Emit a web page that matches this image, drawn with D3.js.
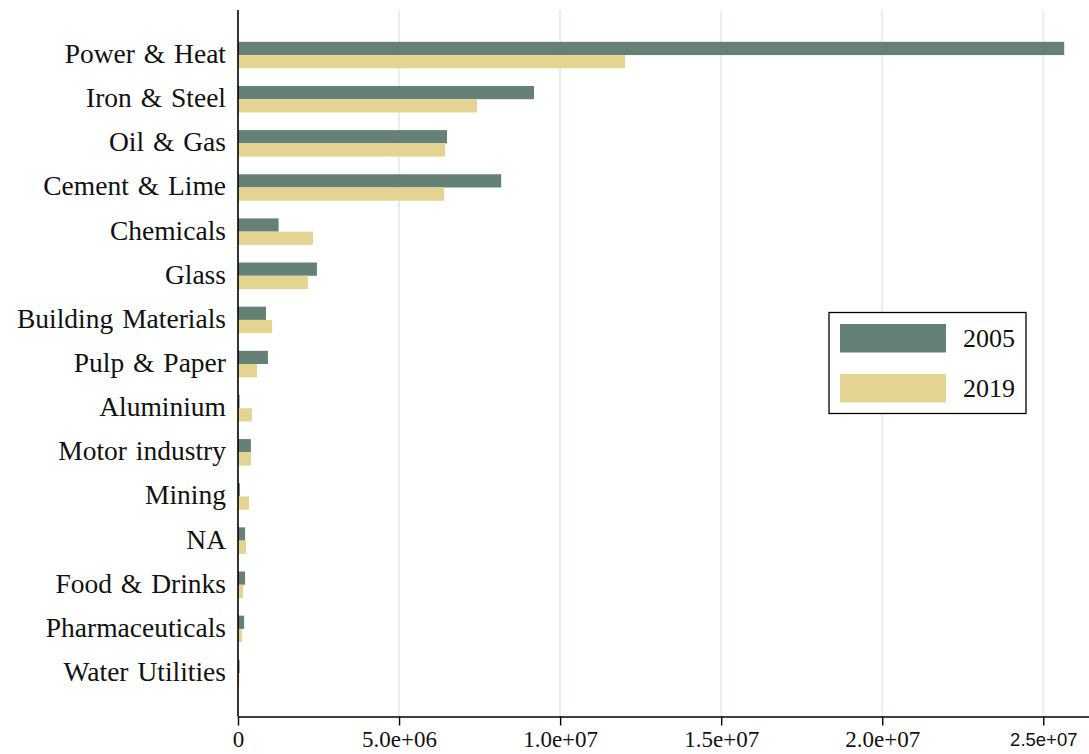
<!DOCTYPE html>
<html>
<head>
<meta charset="utf-8">
<script src="https://cdn.jsdelivr.net/npm/d3@7"></script>
<style>
  html, body { margin: 0; padding: 0; background: #fff; }
  svg { display: block; }
  .tick-label { font-family: "Liberation Serif", serif; font-size: 23px; fill: #111; }
  .tick-label.sans { font-family: "Liberation Sans", sans-serif; font-size: 18.5px; }
</style>
</head>
<body>
<svg id="chart" width="1089" height="754"></svg>
<script>
// Emissions by sector, 2005 vs 2019
const sectors = ["Power & Heat", "Iron & Steel", "Oil & Gas", "Cement & Lime", "Chemicals",
  "Glass", "Building Materials", "Pulp & Paper", "Aluminium", "Motor industry",
  "Mining", "NA", "Food & Drinks", "Pharmaceuticals", "Water Utilities"];
const values2005 = [25650000, 9190000, 6490000, 8170000, 1260000,
  2450000, 870000, 930000, 50000, 400000,
  60000, 220000, 220000, 190000, 50000];
const values2019 = [12020000, 7420000, 6430000, 6400000, 2330000,
  2170000, 1060000, 590000, 430000, 400000,
  340000, 250000, 160000, 120000, 40000];
const seriesNames = ["2005", "2019"];
const seriesColors = ["#658175", "#e4d492"];
const tickValues = [0, 5e6, 1e7, 1.5e7, 2e7, 2.5e7];
const tickLabels = ["0", "5.0e+06", "1.0e+07", "1.5e+07", "2.0e+07", "2.5e+07"];

const svg = d3.select("#chart");
const plotLeft = 238, plotRight = 1089, plotTop = 10, plotBottom = 716.5;
const serif = "Liberation Serif";

const xMax = d3.max(values2005.concat(values2019)) * 1.03;
const x = d3.scaleLinear().domain([0, xMax]).range([plotLeft, plotRight]);
const y = d3.scaleBand().domain(sectors).range([33, 33 + 15 * 44.14]).padding(0);
const barH = y.bandwidth() * 0.3;

// vertical grid behind the bars
svg.append("g").selectAll("line").data(tickValues.slice(1)).join("line")
  .attr("x1", d => x(d)).attr("x2", d => x(d))
  .attr("y1", plotTop).attr("y2", plotBottom)
  .attr("stroke", "#e6eeee").attr("stroke-width", 2);

// bars
const groups = svg.append("g").selectAll("g").data(sectors).join("g");
groups.append("rect")
  .attr("x", x(0))
  .attr("y", d => y(d) + y.bandwidth() / 2 - barH)
  .attr("width", (d, i) => x(values2005[i]) - x(0))
  .attr("height", barH)
  .attr("fill", seriesColors[0]);
groups.append("rect")
  .attr("x", x(0))
  .attr("y", d => y(d) + y.bandwidth() / 2)
  .attr("width", (d, i) => x(values2019[i]) - x(0))
  .attr("height", barH)
  .attr("fill", seriesColors[1]);

// category labels
svg.append("g").selectAll("text").data(sectors).join("text")
  .attr("x", plotLeft - 12)
  .attr("y", d => y(d) + y.bandwidth() / 2 + 8)
  .attr("text-anchor", "end")
  .attr("font-family", serif)
  .attr("font-size", 27.5)
  .attr("word-spacing", 2)
  .attr("fill", "#111")
  .text(d => d);

// bottom axis: line, tick marks and labels
const xAxis = d3.axisBottom(x).tickValues(tickValues)
  .tickFormat((d, i) => tickLabels[i]).tickSize(9).tickSizeOuter(0).tickPadding(6);
const gx = svg.append("g").attr("transform", `translate(0,${plotBottom})`).call(xAxis);
gx.attr("font-size", null).attr("font-family", null);
gx.select(".domain").attr("stroke", "#000").attr("stroke-width", 1.6);
gx.selectAll(".tick line").attr("stroke", "#000").attr("stroke-width", 1.4);
gx.selectAll(".tick text")
  .attr("class", (d, i) => i === tickValues.length - 1 ? "tick-label sans" : "tick-label")
  .attr("fill", null)
  .attr("dy", (d, i) => i === tickValues.length - 1 ? "0.78em" : "0.68em");

// left spine
svg.append("line")
  .attr("x1", plotLeft).attr("x2", plotLeft).attr("y1", plotTop).attr("y2", plotBottom)
  .attr("stroke", "#000").attr("stroke-width", 1.6);

// legend
const legend = svg.append("g");
legend.append("rect")
  .attr("x", 829).attr("y", 312.5).attr("width", 197).attr("height", 101)
  .attr("fill", "#fff").attr("stroke", "#000").attr("stroke-width", 1.3);
seriesNames.forEach((name, i) => {
  legend.append("rect")
    .attr("x", 840).attr("y", 324 + i * 50).attr("width", 106).attr("height", 28.5)
    .attr("fill", seriesColors[i]);
  legend.append("text")
    .attr("x", 963).attr("y", 346.5 + i * 50)
    .attr("font-family", serif).attr("font-size", 26).attr("fill", "#111")
    .text(name);
});
</script>
</body>
</html>
